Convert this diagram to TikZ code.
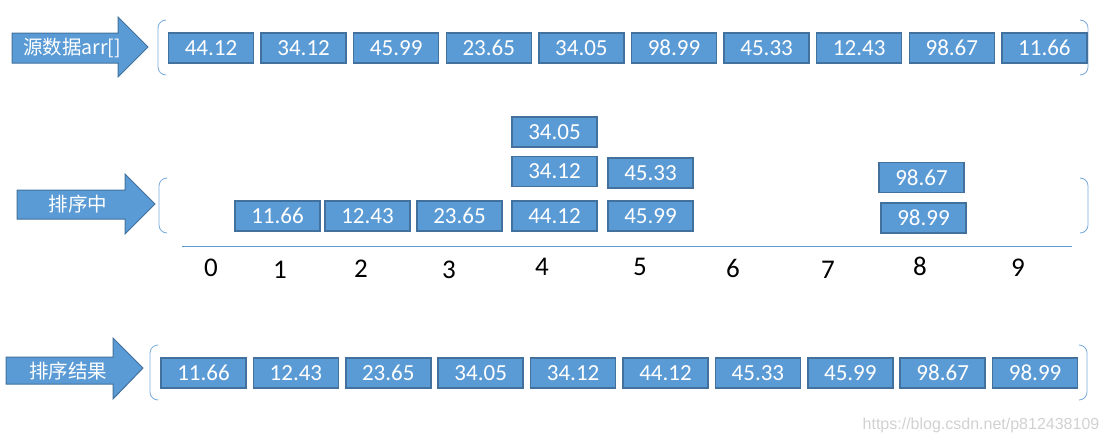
\documentclass[tikz,border=0pt]{standalone}
\usepackage{fontspec}
\setmainfont{Carlito}
\newfontfamily\cjk{Noto Sans CJK SC}
\newfontfamily\wmfont{Liberation Sans}
\usetikzlibrary{positioning}
\definecolor{boxfill}{RGB}{91,155,213}
\definecolor{boxline}{RGB}{65,113,156}
\definecolor{brk}{RGB}{120,170,220}

\begin{document}
\begin{tikzpicture}[x=1pt,y=-1pt,
  numbox/.style={draw=boxline,line width=1.5pt,fill=boxfill,text=white,minimum width=85pt,minimum height=30pt,inner sep=0pt,font=\fontsize{23}{23}\selectfont},
  arrowbody/.style={fill=boxfill,draw=boxline,line width=1pt},
  arrowtxt/.style={text=white,inner sep=0pt,font=\fontsize{19.5}{19.5}\selectfont\cjk},
  brace/.style={draw=brk,line width=0.8pt,rounded corners=8pt},
  idx/.style={inner sep=0pt,font=\fontsize{27}{27}\selectfont}]
  \useasboundingbox (0,0) rectangle (1108,442);
  % label arrows
  \filldraw[arrowbody] (12,33)--(118,33)--(118,17)--(148,47)--(118,77)--(118,63)--(12,63)--cycle;
  \node[arrowtxt] (src) at (72,48) {源数据arr[]};
  \filldraw[arrowbody] (17,190)--(125,190)--(125,174)--(155,204)--(125,234)--(125,219)--(17,219)--cycle;
  \node[arrowtxt] (mid) at (78,204) {排序中};
  \filldraw[arrowbody] (6,357)--(113,357)--(113,338)--(143,368)--(113,399)--(113,384)--(6,384)--cycle;
  \node[arrowtxt] (res) at (68,371) {排序结果};
  % brackets
  \draw[brace] (166,20)--(158,20)--(158,75)--(166,75);
  \draw[brace] (1080,20)--(1088,20)--(1088,75)--(1080,75);
  \draw[brace] (167,178)--(159,178)--(159,233)--(167,233);
  \draw[brace] (1080,178)--(1088,178)--(1088,233)--(1080,233);
  \draw[brace] (158,345)--(150,345)--(150,400)--(158,400);
  \draw[brace] (1079,345)--(1087,345)--(1087,400)--(1079,400);
  % source array
  \foreach \v [count=\i from 0] in {44.12,34.12,45.99,23.65,34.05,98.99,45.33,12.43,98.67,11.66}
    \node[numbox] (s\i) at ({211+92.6*\i},48) {\v};
  % buckets
  \node[numbox] (m1) at (277.5,216) {11.66};
  \node[numbox] (m2) at (367.5,216) {12.43};
  \node[numbox] (m3) at (459.5,216) {23.65};
  \node[numbox] (m4a) at (554.5,216) {44.12};
  \node[numbox] (m4b) at (554.5,171.5) {34.12};
  \node[numbox] (m4c) at (554.5,132) {34.05};
  \node[numbox] (m5a) at (650.5,216) {45.99};
  \node[numbox] (m5b) at (650.5,173) {45.33};
  \node[numbox] (m8a) at (923.5,218) {98.99};
  \node[numbox] (m8b) at (921.5,177.5) {98.67};
  \coordinate (ax0) at (182,246);
  \coordinate (ax1) at (1072,246);
  \draw[draw=boxfill,line width=0.8pt] (ax0)--(ax1);
  \foreach \n/\x/\y in {0/211/268,1/280/270,2/361/269,3/449/270,4/542/267,5/640/267,6/733/268,7/828/270,8/920/266,9/1018/268}
    \node[idx] (l\n) at (\x,\y) {\n};
  % sorted result
  \foreach \v [count=\i from 0] in {11.66,12.43,23.65,34.05,34.12,44.12,45.33,45.99,98.67,98.99}
    \node[numbox] (r\i) at ({203.5+92.4*\i},373) {\v};
  \node[text=black!18,inner sep=0pt,font=\fontsize{16}{16}\selectfont\wmfont] (wm) at (981,425) {https://blog.csdn.net/p812438109};
\end{tikzpicture}
\end{document}
